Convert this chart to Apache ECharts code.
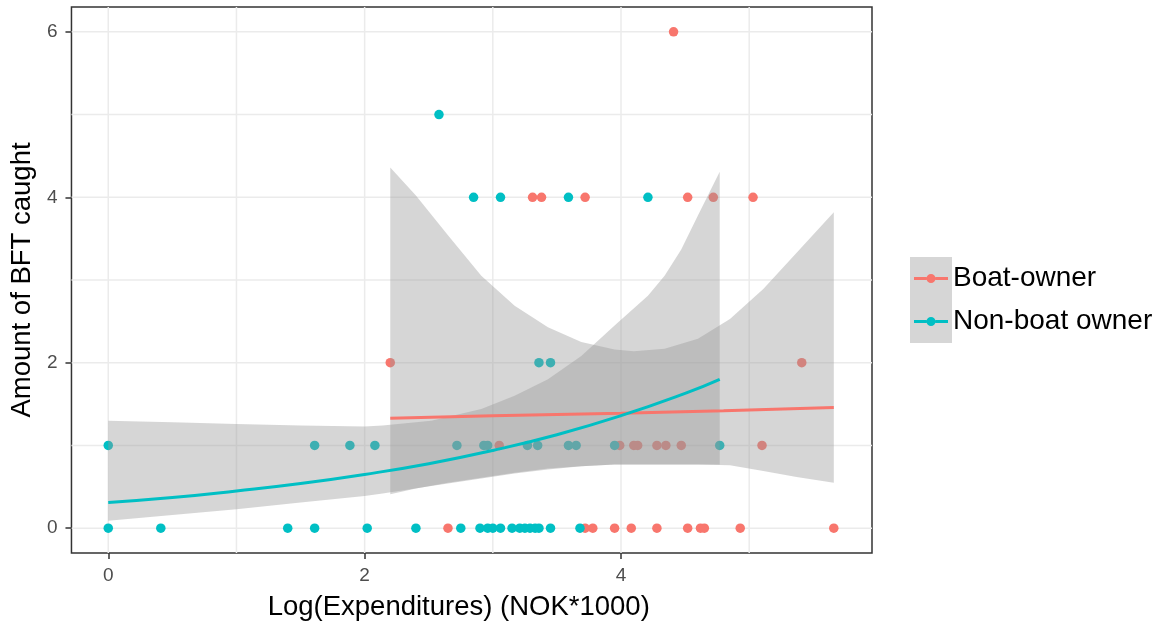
<!DOCTYPE html>
<html>
<head>
<meta charset="utf-8">
<title>BFT catch vs expenditures</title>
<script src="https://cdn.jsdelivr.net/npm/echarts@6/dist/echarts.min.js"></script>
<style>
  html, body { margin: 0; padding: 0; background: #fff; }
  #chart { width: 1168px; height: 631px; }
</style>
</head>
<body>
<div id="chart"></div>
<script>
// ---- observations ----
const boatX = [2.65, 3.72, 3.78, 3.95, 4.08, 4.28, 4.52, 4.62, 4.65, 4.93, 5.66,
               3.05, 3.99, 4.10, 4.13, 4.28, 4.35, 4.47, 5.10,
               2.20, 5.41,
               3.31, 3.38, 3.72, 4.52, 4.72, 5.03,
               4.41];
const boatY = [0, 0, 0, 0, 0, 0, 0, 0, 0, 0, 0,
               1, 1, 1, 1, 1, 1, 1, 1,
               2, 2,
               4, 4, 4, 4, 4, 4,
               6];

const nonBoatX = [0.00, 0.41, 1.40, 1.61, 2.02, 2.40, 2.75, 2.90, 2.96, 3.00, 3.06, 3.15,
                  3.21, 3.25, 3.29, 3.33, 3.36, 3.45, 3.68,
                  0.00, 1.61, 1.885, 2.08, 2.72, 2.93, 2.96, 3.27, 3.35, 3.59, 3.65, 3.95, 4.77,
                  3.36, 3.45,
                  2.85, 3.06, 3.59, 4.21,
                  2.58];
const nonBoatY = [0, 0, 0, 0, 0, 0, 0, 0, 0, 0, 0, 0,
                  0, 0, 0, 0, 0, 0, 0,
                  1, 1, 1, 1, 1, 1, 1, 1, 1, 1, 1, 1, 1,
                  2, 2,
                  4, 4, 4, 4,
                  5];

// ---- fitted curves with confidence bands ----
const boatFitX  = [2.20, 3.00, 4.00, 4.80, 5.66];
const boatFitY  = [1.33, 1.36, 1.39, 1.42, 1.46];
const boatBandX  = [2.20, 2.40, 2.65, 2.91, 3.17, 3.43, 3.69, 3.95, 4.10, 4.34, 4.60, 4.85, 5.11, 5.37, 5.66];
const boatBandLo = [0.41, 0.48, 0.55, 0.61, 0.67, 0.72, 0.75, 0.77, 0.77, 0.77, 0.77, 0.76, 0.69, 0.62, 0.55];
const boatBandHi = [4.36, 4.02, 3.54, 3.05, 2.69, 2.43, 2.25, 2.16, 2.14, 2.17, 2.29, 2.53, 2.89, 3.33, 3.82];

const nonBoatFitX = [0.00, 0.50, 1.00, 1.50, 2.00, 2.50, 3.00, 3.50, 4.00, 4.50, 4.77];
const nonBoatFitY = [0.31, 0.37, 0.45, 0.54, 0.65, 0.78, 0.94, 1.13, 1.36, 1.63, 1.80];
const nonBoatBandX  = [0.00, 0.50, 1.00, 1.50, 2.00, 2.14, 2.52, 2.91, 3.17, 3.43, 3.69, 3.95, 4.21, 4.34, 4.47, 4.60, 4.77];
const nonBoatBandLo = [0.09, 0.16, 0.23, 0.31, 0.39, 0.42, 0.51, 0.60, 0.66, 0.71, 0.75, 0.77, 0.77, 0.77, 0.77, 0.77, 0.77];
const nonBoatBandHi = [1.30, 1.28, 1.26, 1.24, 1.23, 1.24, 1.30, 1.44, 1.60, 1.80, 2.08, 2.45, 2.81, 3.05, 3.37, 3.78, 4.31];

// ---- axes ----
const xTicks = [0, 2, 4];
const yTicks = [0, 2, 4, 6];
const xGridValues = [0, 1, 2, 3, 4, 5];
const yGridValues = [0, 1, 2, 3, 4, 5, 6];

const RED = '#F8766D';
const TEAL = '#00BFC4';
const FONT = '"Liberation Sans", Arial, sans-serif';

const zip = (xs, ys) => xs.map((x, i) => [x, ys[i]]);

// translucent ribbon between lower and upper confidence limits
function bandSeries(name, xs, lo, hi) {
  const rows = xs.map((x, i) => [x, lo[i], hi[i]]);
  return {
    type: 'custom',
    name: name,
    z: 3,
    silent: true,
    data: rows,
    encode: { x: 0, y: [1, 2] },
    renderItem(params, api) {
      if (params.dataIndex !== 0) return null;
      const upper = rows.map(r => api.coord([r[0], r[2]]));
      const lower = rows.map(r => api.coord([r[0], r[1]])).reverse();
      return {
        type: 'polygon',
        shape: { points: upper.concat(lower) },
        style: { fill: 'rgba(153,153,153,0.4)' }
      };
    }
  };
}

// panel grid lines (major and minor share the same light grey)
function gridLineSeries(values, vertical) {
  return {
    type: 'custom',
    z: 0,
    silent: true,
    data: values.map(v => vertical ? [v, 0] : [0, v]),
    encode: { x: 0, y: 1 },
    renderItem(params, api) {
      const cs = params.coordSys;
      const p = api.coord([api.value(0), api.value(1)]);
      const shape = vertical
        ? { x1: p[0], y1: cs.y, x2: p[0], y2: cs.y + cs.height }
        : { x1: cs.x, y1: p[1], x2: cs.x + cs.width, y2: p[1] };
      return { type: 'line', shape: shape, style: { stroke: '#EBEBEB', lineWidth: 1.5 } };
    }
  };
}

const legendIcon = 'path://M0,3H12.6V6H0Z M21.4,3H34V6H21.4Z M21.5,4.5A4.5,4.5,0,1,1,12.5,4.5A4.5,4.5,0,1,1,21.5,4.5Z';

const chart = echarts.init(document.getElementById('chart'), null, { renderer: 'canvas' });

chart.setOption({
  animation: false,
  backgroundColor: '#ffffff',
  textStyle: { fontFamily: FONT },
  grid: {
    left: 68, right: 296, top: 7, bottom: 78,
    show: true, borderColor: '#333333', borderWidth: 1.5, backgroundColor: 'transparent'
  },
  graphic: [{
    type: 'rect', z: -1, silent: true,
    shape: { x: 910, y: 257, width: 42, height: 86 },
    style: { fill: '#D6D6D6' }
  }],
  legend: {
    orient: 'vertical',
    left: 914, top: 257,
    padding: 0,
    itemGap: 0,
    itemWidth: 34,
    itemHeight: 9,
    selectedMode: false,
    textStyle: { fontSize: 28, color: '#000', lineHeight: 43, fontFamily: FONT },
    data: [
      { name: 'Boat-owner', icon: legendIcon, itemStyle: { color: RED } },
      { name: 'Non-boat owner', icon: legendIcon, itemStyle: { color: TEAL } }
    ]
  },
  xAxis: {
    type: 'value',
    min: -0.287, max: 5.958,
    name: 'Log(Expenditures) (NOK*1000)',
    nameLocation: 'middle',
    nameGap: 40,
    nameTextStyle: { fontSize: 27.5, color: '#000', fontFamily: FONT, padding: [0, 26, 0, 0] },
    axisLine: { show: false, onZero: false },
    axisTick: { show: true, customValues: xTicks, length: 6, lineStyle: { color: '#333333', width: 1.5 } },
    axisLabel: { customValues: xTicks, fontSize: 19, color: '#4D4D4D', margin: 13, fontFamily: FONT },
    splitLine: { show: false }
  },
  yAxis: {
    type: 'value',
    min: -0.3, max: 6.3,
    name: 'Amount of BFT caught',
    nameLocation: 'middle',
    nameRotate: 90,
    nameGap: 29,
    nameTextStyle: { fontSize: 27.5, color: '#000', fontFamily: FONT },
    axisLine: { show: false, onZero: false },
    axisTick: { show: true, customValues: yTicks, length: 6, lineStyle: { color: '#333333', width: 1.5 } },
    axisLabel: { customValues: yTicks, fontSize: 19, color: '#4D4D4D', margin: 14, fontFamily: FONT },
    splitLine: { show: false }
  },
  series: [
    gridLineSeries(xGridValues, true),
    gridLineSeries(yGridValues, false),
    {
      type: 'scatter', name: 'Boat-owner', z: 2, silent: true,
      symbolSize: 9.5, itemStyle: { color: RED, opacity: 1 },
      data: zip(boatX, boatY)
    },
    {
      type: 'scatter', name: 'Non-boat owner', z: 2, silent: true,
      symbolSize: 9.5, itemStyle: { color: TEAL, opacity: 1 },
      data: zip(nonBoatX, nonBoatY)
    },
    bandSeries('Boat-owner', boatBandX, boatBandLo, boatBandHi),
    bandSeries('Non-boat owner', nonBoatBandX, nonBoatBandLo, nonBoatBandHi),
    {
      type: 'line', name: 'Boat-owner', z: 4, silent: true,
      showSymbol: false, smooth: true,
      lineStyle: { color: RED, width: 3 }, itemStyle: { color: RED },
      data: zip(boatFitX, boatFitY)
    },
    {
      type: 'line', name: 'Non-boat owner', z: 4, silent: true,
      showSymbol: false, smooth: true,
      lineStyle: { color: TEAL, width: 3 }, itemStyle: { color: TEAL },
      data: zip(nonBoatFitX, nonBoatFitY)
    }
  ]
});
</script>
</body>
</html>
